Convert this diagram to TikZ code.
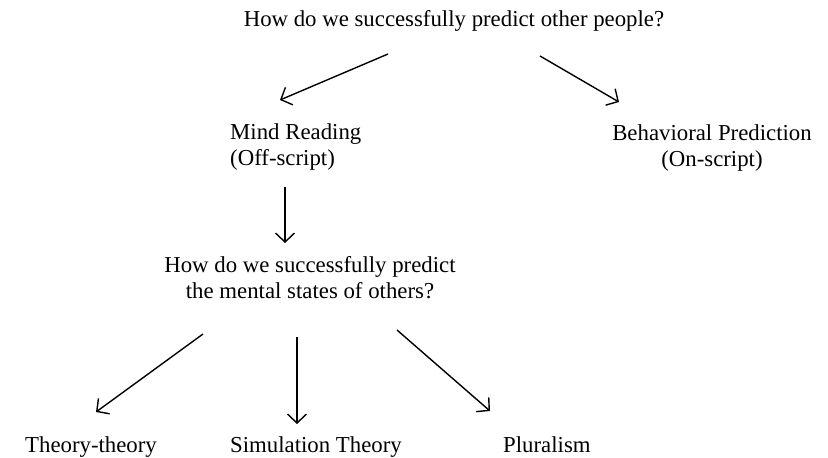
\documentclass[tikz,border=0pt]{standalone}
\usepackage{fontspec}
\setmainfont{Liberation Serif}
\usetikzlibrary{arrows.meta,calc}
\tikzset{
	txt/.style = {inner sep=0pt, font=\fontsize{22.8}{26}\selectfont},
	arr/.style = {-{Straight Barb[length=9pt,width=19pt]}, line width=1.4pt, black}
}

\begin{document}
\begin{tikzpicture}[x=1pt,y=-1pt]
		\useasboundingbox (0,0) rectangle (828,458);
		\node[txt] (top) at (454,21) {How do we successfully predict other people?};
		\node[txt, anchor=west, align=left] (mind) at (230,147) {Mind Reading\\(Off-script)};
		\node[txt, align=center] (behav) at (712,148) {Behavioral Prediction\\(On-script)};
		\node[txt, align=center] (mental) at (310,278) {How do we successfully predict\\ the mental states of others?};
		\node[txt, anchor=base west] (tt) at (25,452) {Theory-theory};
		\node[txt, anchor=base west] (sim) at (230,452) {Simulation Theory};
		\node[txt, anchor=base west] (plural) at (503,452) {Pluralism};
		\draw[arr] ($(top)+(-66,33)$) -- ($(mind.west)+(50,-47)$);
		\draw[arr] ($(top)+(86,35)$) -- ($(behav)+(-93,-46)$);
		\draw[arr] ($(mind.west)+(55,40)$) -- ($(mental)+(-25,-35)$);
		\draw[arr] ($(mental)+(-107,56)$) -- ($(tt.base west)+(71,-40)$);
		\draw[arr] ($(mental)+(-13,59)$) -- ($(sim.base west)+(67,-28)$);
		\draw[arr] ($(mental)+(87,52)$) -- ($(plural.base west)+(-13,-41)$);
	\end{tikzpicture}
\end{document}
